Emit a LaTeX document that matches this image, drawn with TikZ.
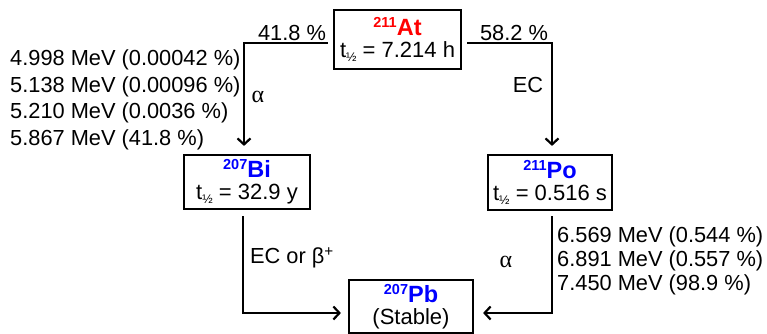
\documentclass[tikz,border=0pt]{standalone}
\usepackage{fontspec}
\setmainfont{Liberation Sans}
\newfontfamily\greekfont{Liberation Serif}
\usetikzlibrary{arrows.meta}
% nuclide symbol: colour, mass number, element
\newcommand\nuclide[3]{\textcolor{#1}{\bfseries\raisebox{8pt}{\fontsize{14.5}{14.5}\selectfont #2}\fontsize{23.5}{22}\selectfont #3}}
% half-life symbol
\newcommand\thalf{t\raisebox{-4pt}{\fontsize{12.5}{12.5}\selectfont ½}}
\begin{document}
\begin{tikzpicture}[x=1pt,y=-1pt,
  nucbox/.style={draw, line width=2.2pt, inner sep=0pt, align=center,
    font=\fontsize{22}{22}\selectfont},
  conn/.style={line width=2.2pt, line join=miter,
    -{Straight Barb[length=6pt,width=13pt,line width=2.2pt]}},
  lbl/.style={font=\fontsize{21.8}{26}\selectfont, inner sep=0pt},
  greek/.style={font=\fontsize{24}{26}\selectfont\greekfont, inner sep=0pt},
]
\useasboundingbox (0,0) rectangle (767,334);

% nuclide boxes
\node[nucbox, minimum width=127, minimum height=59] (At) at (397.5,39.5)
  {\nuclide{red}{211}{At}\\ \thalf{} = 7.214 h};
\node[nucbox, minimum width=126, minimum height=54] (Bi) at (247,182)
  {\nuclide{blue}{207}{Bi}\\ \thalf{} = 32.9 y};
\node[nucbox, minimum width=124, minimum height=55] (Po) at (550,182.5)
  {\nuclide{blue}{211}{Po}\\ \thalf{} = 0.516 s};
\node[nucbox, minimum width=124, minimum height=53] (Pb) at (411,306.5)
  {\nuclide{blue}{207}{Pb}\\ (Stable)};

% decay connectors
\draw[conn] ([xshift=-5pt,yshift=-3.5pt]At.west) -| ([xshift=-3pt,yshift=8pt]Bi.north);
\draw[conn] ([xshift=5pt,yshift=-3.5pt]At.east) -| ([xshift=2pt,yshift=8pt]Po.north);
\draw[conn] ([xshift=-4pt,yshift=-6pt]Bi.south) |- ([xshift=-7pt,yshift=-6.5pt]Pb.west);
\draw[conn] ([xshift=2pt,yshift=-5pt]Po.south) |- ([xshift=9pt,yshift=-6.5pt]Pb.east);

% branching ratios and decay modes
\node[lbl] (pa) at (292,33) {41.8 \%};
\node[lbl] (pe) at (514,33) {58.2 \%};
\node[lbl] (ec) at (528,85) {EC};
\node[greek] (aa) at (258,97) {α};
\node[lbl] (eb) at (292,258) {EC or β\textsuperscript{+}};
\node[greek] (ab) at (506,262) {α};

% alpha energies of At-211
\node[lbl, anchor=west] (e1) at (10,60)  {4.998 MeV (0.00042 \%)};
\node[lbl, anchor=west] (e2) at (10,87)  {5.138 MeV (0.00096 \%)};
\node[lbl, anchor=west] (e3) at (10,113) {5.210 MeV (0.0036 \%)};
\node[lbl, anchor=west] (e4) at (10,140) {5.867 MeV (41.8 \%)};

% alpha energies of Po-211
\node[lbl, anchor=west] (f1) at (557,237) {6.569 MeV (0.544 \%)};
\node[lbl, anchor=west] (f2) at (557,261) {6.891 MeV (0.557 \%)};
\node[lbl, anchor=west] (f3) at (557,285) {7.450 MeV (98.9 \%)};
\end{tikzpicture}
\end{document}
